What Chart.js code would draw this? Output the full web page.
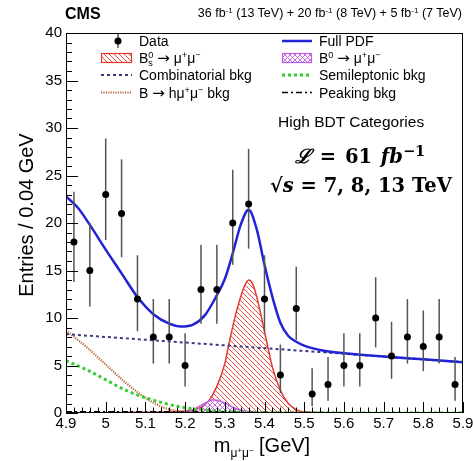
<!DOCTYPE html>
<html>
<head>
<meta charset="utf-8">
<script src="https://cdn.jsdelivr.net/npm/chart.js@4.4.1/dist/chart.umd.min.js"></script>
<style>
  body { margin: 0; background: #fff; }
  #wrap { position: relative; width: 473px; height: 461px; font-family: "Liberation Sans", Arial, sans-serif; color: #000; }
  #myChart { position: absolute; left: 0; top: 0; }
  .t { position: absolute; white-space: nowrap; line-height: 1; }
  .t sup { font-size: 0.65em; vertical-align: 0.55em; line-height: 0; }
  .t sub { font-size: 0.6em; vertical-align: -0.4em; line-height: 0; }
  .stk { display: inline-block; font-size: 0.65em; line-height: 0.8em; vertical-align: -0.3em; text-align: left; }
  .arr { font-family: "DejaVu Sans", sans-serif; font-size: 15px; }
  .ann { font-family: "DejaVu Serif", "Liberation Serif", serif; font-weight: bold; font-size: 19.5px; }
  .ann sup { font-size: 0.75em; vertical-align: 0.5em; }
</style>
</head>
<body>
<div id="wrap">
  <canvas id="myChart" width="473" height="461"></canvas>

  <div class="t" style="left:65px;top:6px;font-weight:bold;font-size:16px">CMS</div>
  <div class="t" style="right:11px;top:7px;font-size:12.5px">36 fb<sup>-1</sup> (13 TeV) + 20 fb<sup>-1</sup> (8 TeV) + 5 fb<sup>-1</sup> (7 TeV)</div>

  <div class="t" style="left:139px;top:34px;font-size:14px">Data</div>
  <div class="t" style="left:139px;top:51px;font-size:14px">B<span class="stk">0<br>s</span> <span class="arr">→</span> μ<sup>+</sup>μ<sup>−</sup></div>
  <div class="t" style="left:139px;top:68px;font-size:14px">Combinatorial bkg</div>
  <div class="t" style="left:139px;top:85.5px;font-size:14px">B <span class="arr">→</span> hμ<sup>+</sup>μ<sup>−</sup> bkg</div>
  <div class="t" style="left:319px;top:34px;font-size:14px">Full PDF</div>
  <div class="t" style="left:319px;top:51px;font-size:14px">B<sup>0</sup> <span class="arr">→</span> μ<sup>+</sup>μ<sup>−</sup></div>
  <div class="t" style="left:319px;top:68px;font-size:14px">Semileptonic bkg</div>
  <div class="t" style="left:319px;top:85.5px;font-size:14px">Peaking bkg</div>

  <div class="t" style="left:278px;top:114px;font-size:15.5px">High BDT Categories</div>
  <div class="t ann" style="left:295px;top:146.5px;word-spacing:2px"><i>ℒ</i> = 61 <i>fb</i><sup>−1</sup></div>
  <div class="t ann" style="left:270px;top:175.5px">√<i>s</i> = 7, 8, 13 TeV</div>

  <div class="t" style="left:-74px;top:205px;width:200px;text-align:center;font-size:20px;transform:rotate(-90deg)">Entries / 0.04 GeV</div>
  <div class="t" style="left:162px;top:435px;width:200px;text-align:center;font-size:20px">m<sub>μ<sup>+</sup>μ<sup>−</sup></sub> [GeV]</div>
</div>

<script>
// data points (bin centres, 0.04 GeV bins)
const massBins = [4.92, 4.96, 5.00, 5.04, 5.08, 5.12, 5.16, 5.20, 5.24, 5.28, 5.32, 5.36, 5.40,
                  5.44, 5.48, 5.52, 5.56, 5.60, 5.64, 5.68, 5.72, 5.76, 5.80, 5.84, 5.88];
const dataCounts = [18, 15, 23, 21, 12, 8, 8, 5, 13, 13, 20, 22, 12,
                    4, 11, 2, 3, 5, 5, 10, 6, 8, 7, 8, 3];
const errLow = [13.8, 11.2, 18.2, 16.4, 8.6, 5.2, 5.2, 2.8, 9.4, 9.4, 15.6, 17.3, 8.6,
                2.1, 7.7, 0.7, 1.3, 2.8, 2.8, 6.9, 3.6, 5.2, 4.4, 5.2, 1.3];
const errHigh = [23.3, 20.0, 28.9, 26.7, 16.6, 12.0, 12.0, 8.4, 17.7, 17.7, 25.6, 27.8, 16.6,
                 7.2, 15.4, 4.7, 5.9, 8.4, 8.4, 14.3, 9.6, 12.0, 10.8, 12.0, 5.9];

// fit curves
const pdfMass = [4.90, 4.93, 4.96, 5.00, 5.04, 5.08, 5.12, 5.16, 5.19, 5.22, 5.25, 5.28, 5.30, 5.32,
                 5.34, 5.36, 5.38, 5.40, 5.42, 5.44, 5.46, 5.48, 5.50, 5.55, 5.60, 5.70, 5.80, 5.90];
const pdfValues = [22.8, 21.6, 19.8, 17.2, 14.7, 12.2, 10.4, 9.4, 9.1, 9.3, 10.3, 12.4, 14.1, 16.8,
                   19.8, 21.4, 19.4, 15.6, 12.2, 9.5, 8.1, 7.5, 7.1, 6.55, 6.3, 5.95, 5.65, 5.35];

const combMass = [4.90, 5.10, 5.30, 5.50, 5.70, 5.90];
const combValues = [8.3, 7.71, 7.12, 6.53, 5.94, 5.35];

const semiMass = [4.90, 4.95, 5.00, 5.05, 5.10, 5.15, 5.20, 5.25, 5.30, 5.35, 5.40, 5.90];
const semiValues = [5.5, 4.6, 3.5, 2.4, 1.6, 1.0, 0.55, 0.3, 0.15, 0.05, 0.02, 0];

const hmumuMass = [4.90, 4.95, 5.00, 5.05, 5.10, 5.15, 5.20, 5.25, 5.90];
const hmumuValues = [8.7, 7.0, 5.1, 3.2, 1.6, 0.5, 0.1, 0.02, 0];

const bsMass = [4.90, 5.10, 5.20, 5.24, 5.26, 5.28, 5.30, 5.31, 5.33, 5.35, 5.36, 5.37, 5.38,
                5.40, 5.42, 5.44, 5.46, 5.48, 5.50, 5.55, 5.90];
const bsValues = [0.02, 0.08, 0.2, 0.6, 1.3, 2.8, 5.2, 7.2, 10.8, 13.4, 14.0, 13.6, 12.3,
                  8.6, 4.8, 2.4, 1.0, 0.35, 0.1, 0.02, 0];

const b0Mass = [5.15, 5.20, 5.22, 5.24, 5.26, 5.27, 5.28, 5.30, 5.32, 5.34, 5.37, 5.40];
const b0Values = [0, 0.1, 0.35, 0.8, 1.25, 1.4, 1.35, 1.05, 0.6, 0.3, 0.08, 0];

const peakMass = [4.90, 5.10, 5.25, 5.35, 5.50, 5.90];
const peakValues = [0.12, 0.12, 0.15, 0.1, 0.05, 0.02];

const xTickLabels = ['4.9', '5', '5.1', '5.2', '5.3', '5.4', '5.5', '5.6', '5.7', '5.8', '5.9'];
const yTickLabels = ['0', '5', '10', '15', '20', '25', '30', '35', '40'];

const BLUE = '#2222d6', NAVY = '#3a3a80', GREEN = '#33cc33', BROWN = '#b8683c',
      RED = '#e5382c', VIOLET = '#c060e8';

function pts(xs, ys) {
  return xs.map((x, i) => ({ x: x, y: ys[i] }));
}

function hatch(color, cross) {
  let c = document.createElement('canvas');
  c.width = 5; c.height = 5;
  let g = c.getContext('2d');
  g.strokeStyle = color;
  g.lineWidth = 0.9;
  g.beginPath();
  g.moveTo(-1, -1); g.lineTo(6, 6);
  g.moveTo(-1, 4); g.lineTo(1, 6);
  g.moveTo(4, -1); g.lineTo(6, 1);
  if (cross) {
    g.moveTo(-1, 6); g.lineTo(6, -1);
    g.moveTo(-1, 1); g.lineTo(1, -1);
    g.moveTo(4, 6); g.lineTo(6, 4);
  }
  g.stroke();
  return g.createPattern(c, 'repeat');
}

function curve(label, xs, ys, color, width, dash, extra) {
  return Object.assign({
    type: 'line',
    label: label,
    data: pts(xs, ys),
    borderColor: color,
    borderWidth: width,
    borderDash: dash,
    pointRadius: 0,
    fill: false,
    cubicInterpolationMode: 'monotone'
  }, extra || {});
}

// error bars + frame + inward ticks, ROOT style
const rootStyle = {
  id: 'rootStyle',
  beforeDatasetDraw(chart, args) {
    if (args.index !== 0) return;
    const c = chart.ctx, xs = chart.scales.x, ys = chart.scales.y;
    c.save();
    c.strokeStyle = '#555';
    c.lineWidth = 1.5;
    massBins.forEach((m, i) => {
      let px = xs.getPixelForValue(m);
      c.beginPath();
      c.moveTo(px, ys.getPixelForValue(errLow[i]));
      c.lineTo(px, ys.getPixelForValue(errHigh[i]));
      c.stroke();
    });
    c.restore();
  },
  afterDraw(chart) {
    const c = chart.ctx, a = chart.chartArea, xs = chart.scales.x, ys = chart.scales.y;
    c.save();
    c.strokeStyle = '#000';
    c.lineWidth = 1;
    c.strokeRect(a.left + 0.5, a.top + 0.5, a.right - a.left - 1, a.bottom - a.top - 1);
    c.beginPath();
    for (let v = 0; v <= 40; v++) {
      let py = Math.round(ys.getPixelForValue(v)) + 0.5;
      c.moveTo(a.left, py);
      c.lineTo(a.left + (v % 5 === 0 ? 12 : 6), py);
    }
    for (let k = 0; k <= 50; k++) {
      let px = Math.round(xs.getPixelForValue(4.9 + k * 0.02)) + 0.5;
      c.moveTo(px, a.bottom);
      c.lineTo(px, a.bottom - (k % 5 === 0 ? 11 : 5.5));
    }
    c.stroke();

    // legend symbols
    c.fillStyle = hatch(RED, false);
    c.fillRect(101, 53, 31, 10);
    c.strokeStyle = RED; c.lineWidth = 1.2;
    c.strokeRect(101.5, 53.5, 30, 9);
    c.fillStyle = hatch(VIOLET, true);
    c.fillRect(282, 53, 30, 10);
    c.strokeStyle = VIOLET;
    c.strokeRect(282.5, 53.5, 29, 9);

    c.strokeStyle = '#555'; c.lineWidth = 1.5;
    c.beginPath(); c.moveTo(118, 34); c.lineTo(118, 48); c.stroke();
    c.fillStyle = '#000';
    c.beginPath(); c.arc(118, 41, 3.5, 0, Math.PI * 2); c.fill();

    const seg = (x0, x1, y, col, w, dash) => {
      c.strokeStyle = col; c.lineWidth = w; c.setLineDash(dash);
      c.beginPath(); c.moveTo(x0, y); c.lineTo(x1, y); c.stroke();
    };
    seg(101, 132, 75, NAVY, 2, [3, 3]);
    seg(101, 132, 92.5, BROWN, 2.2, [1.2, 1.2]);
    seg(282, 312, 41, BLUE, 2.5, []);
    seg(282, 312, 75, GREEN, 3, [3, 3]);
    seg(282, 312, 92.5, '#000', 1.5, [6, 3, 2, 3]);
    c.setLineDash([]);
    c.restore();
  }
};

window.onload = function () {
  let ctx = document.getElementById('myChart').getContext('2d');

  window.myChart = new Chart(ctx, {
    type: 'scatter',
    data: {
      datasets: [
        {
          label: 'Data',
          data: pts(massBins, dataCounts),
          pointRadius: 3.5,
          pointBackgroundColor: '#000',
          pointBorderWidth: 0,
          showLine: false
        },
        curve('Full PDF', pdfMass, pdfValues, BLUE, 2.5, []),
        curve('Combinatorial bkg', combMass, combValues, NAVY, 2, [3, 3]),
        curve('Semileptonic bkg', semiMass, semiValues, GREEN, 3, [3, 3]),
        curve('B → hμμ bkg', hmumuMass, hmumuValues, BROWN, 2.2, [1.2, 1.2]),
        curve('Peaking bkg', peakMass, peakValues, '#000', 1.5, [6, 3, 2, 3]),
        curve('B0 → μμ', b0Mass, b0Values, VIOLET, 1.5, [],
              { fill: 'origin', backgroundColor: hatch(VIOLET, true) }),
        curve('Bs → μμ', bsMass, bsValues, RED, 1.5, [],
              { fill: 'origin', backgroundColor: hatch(RED, false) })
      ]
    },
    options: {
      responsive: false,
      animation: false,
      layout: { padding: { left: 0, top: 33, right: 10, bottom: 0 } },
      plugins: { legend: { display: false }, tooltip: { enabled: false } },
      scales: {
        x: {
          type: 'linear',
          min: 4.9,
          max: 5.9,
          grid: { display: false, drawTicks: false },
          border: { display: false },
          ticks: {
            stepSize: 0.1,
            padding: 2,
            color: '#000',
            font: { family: 'Liberation Sans', size: 15 },
            maxRotation: 0,
            autoSkip: false,
            callback: (v, i) => xTickLabels[i]
          },
          afterFit(s) { s.height = 48; s.paddingLeft = 0; s.paddingRight = 0; }
        },
        y: {
          min: 0,
          max: 40,
          grid: { display: false, drawTicks: false },
          border: { display: false },
          ticks: {
            stepSize: 5,
            padding: 4,
            color: '#000',
            font: { family: 'Liberation Sans', size: 15 },
            callback: (v, i) => yTickLabels[i]
          },
          afterFit(s) { s.width = 66; s.paddingTop = 0; s.paddingBottom = 0; }
        }
      }
    },
    plugins: [rootStyle]
  });
};
</script>
</body>
</html>
